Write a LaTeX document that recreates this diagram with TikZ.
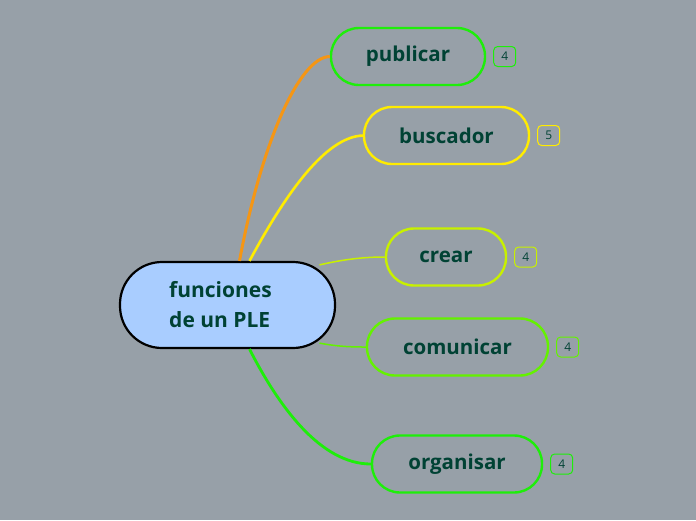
\documentclass[tikz,border=0pt]{standalone}
\usepackage{fontspec}
\setmainfont{Open Sans}
\usetikzlibrary{positioning}
\definecolor{bgmap}{RGB}{151,160,168}
\definecolor{txtmap}{RGB}{0,66,52}
\definecolor{rootfill}{RGB}{169,205,255}
\definecolor{brorange}{RGB}{245,150,20}
\definecolor{bryellow}{RGB}{255,236,0}
\definecolor{brlime}{RGB}{200,240,0}
\definecolor{brgreen}{RGB}{100,242,0}
\definecolor{brpure}{RGB}{30,238,10}

\begin{document}
\begin{tikzpicture}[x=1pt,y=-1pt,line width=1.5pt,
  root/.style={draw=black,line width=2.2pt,fill=rootfill,rounded corners=42pt,
    minimum width=215pt,minimum height=86pt,align=left,text=txtmap,
    font=\fontsize{21}{30}\selectfont\bfseries},
  topic/.style={draw=#1,line width=2.4pt,rounded corners=28pt,minimum height=57pt,
    text=txtmap,font=\fontsize{20.5}{22}\selectfont\bfseries},
  badge/.style={draw=#1,line width=1pt,rounded corners=4pt,minimum width=22pt,
    minimum height=20pt,inner sep=0pt,text=txtmap,font=\fontsize{12}{12}\selectfont},
  link/.style={draw=#1}]
% ---------- fondo ----------
\fill[bgmap] (0,0) rectangle (696,520);
\useasboundingbox (0,0) rectangle (696,520);
% ---------- ramas ----------
\node[root] (ple) at (227.5,305) {funciones\hspace*{14pt}\\de un PLE};
\node[topic=brpure,minimum width=154pt] (publicar) at (408,56.5) {publicar};
\node[topic=bryellow,minimum width=165pt] (buscador) at (446.5,135.5) {buscador};
\node[topic=brlime,minimum width=120pt] (crear) at (446,257) {crear};
\node[topic=brgreen,minimum width=181pt] (comunicar) at (457.5,347) {comunicar};
\node[topic=brpure,minimum width=170pt] (organisar) at (457,464) {organisar};
% numero de subtemas
\node[badge=brpure,right=7pt of publicar] (npublicar) {4};
\node[badge=bryellow,right=7pt of buscador] (nbuscador) {5};
\node[badge=brlime,right=7pt of crear] (ncrear) {4};
\node[badge=brgreen,right=7pt of comunicar] (ncomunicar) {4};
\node[badge=brpure,right=7pt of organisar] (norganisar) {4};
% ---------- conectores ----------
\draw[link=brorange,line width=3pt] ([xshift=12pt]ple.north)
  .. controls (262,140) and (300,57) .. (publicar.west);
\draw[link=bryellow,line width=2.6pt] ([xshift=22pt]ple.north)
  .. controls (285,195) and (325,137) .. (buscador.west);
\draw[link=brlime] ([xshift=92pt,yshift=-4pt]ple.north)
  .. controls (345,259) and (365,257) .. (crear.west);
\draw[link=brgreen] ([xshift=92pt,yshift=6pt]ple.south)
  .. controls (340,347) and (355,347) .. (comunicar.west);
\draw[link=brpure,line width=2.8pt] ([xshift=22pt]ple.south)
  .. controls (278,405) and (320,464) .. (organisar.west);
\end{tikzpicture}
\end{document}
